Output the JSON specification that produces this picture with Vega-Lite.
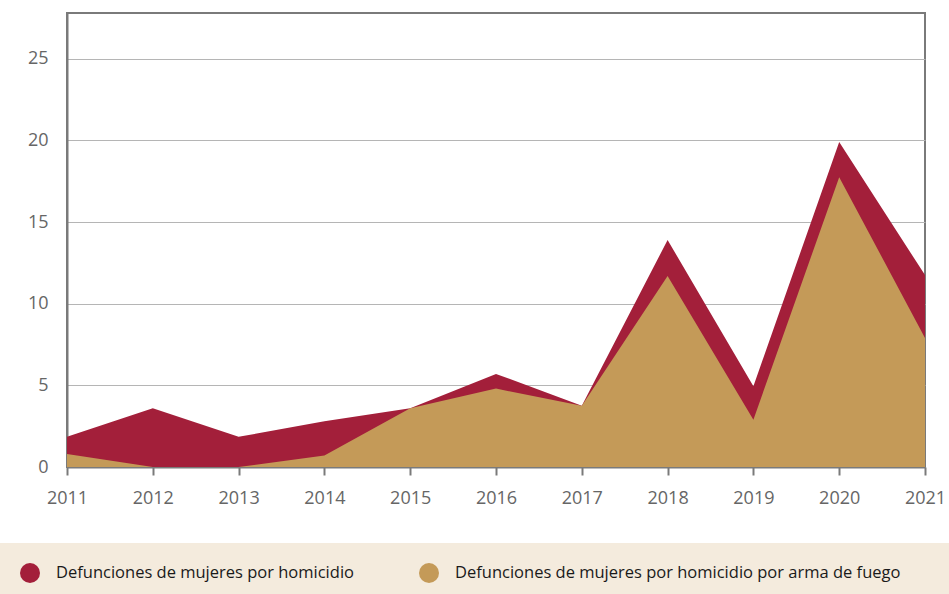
{
  "$schema": "https://vega.github.io/schema/vega-lite/v6.json",
  "width": 858,
  "height": 454,
  "autosize": {"type": "none"},
  "padding": {"left": 67, "top": 13, "right": 24, "bottom": 127},
  "background": "white",
  "config": {
    "view": {"stroke": "#7a7a7a", "strokeWidth": 2},
    "font": "Open Sans"
  },
  "data": {
    "values": [
      {"year": 2011, "serie": "Defunciones de mujeres por homicidio", "valor": 1.85},
      {"year": 2012, "serie": "Defunciones de mujeres por homicidio", "valor": 3.6},
      {"year": 2013, "serie": "Defunciones de mujeres por homicidio", "valor": 1.85},
      {"year": 2014, "serie": "Defunciones de mujeres por homicidio", "valor": 2.8},
      {"year": 2015, "serie": "Defunciones de mujeres por homicidio", "valor": 3.6},
      {"year": 2016, "serie": "Defunciones de mujeres por homicidio", "valor": 5.7},
      {"year": 2017, "serie": "Defunciones de mujeres por homicidio", "valor": 3.75},
      {"year": 2018, "serie": "Defunciones de mujeres por homicidio", "valor": 13.9},
      {"year": 2019, "serie": "Defunciones de mujeres por homicidio", "valor": 4.95},
      {"year": 2020, "serie": "Defunciones de mujeres por homicidio", "valor": 19.9},
      {"year": 2021, "serie": "Defunciones de mujeres por homicidio", "valor": 11.75},
      {"year": 2011, "serie": "Defunciones de mujeres por homicidio por arma de fuego", "valor": 0.8},
      {"year": 2012, "serie": "Defunciones de mujeres por homicidio por arma de fuego", "valor": 0},
      {"year": 2013, "serie": "Defunciones de mujeres por homicidio por arma de fuego", "valor": 0},
      {"year": 2014, "serie": "Defunciones de mujeres por homicidio por arma de fuego", "valor": 0.7},
      {"year": 2015, "serie": "Defunciones de mujeres por homicidio por arma de fuego", "valor": 3.6},
      {"year": 2016, "serie": "Defunciones de mujeres por homicidio por arma de fuego", "valor": 4.8},
      {"year": 2017, "serie": "Defunciones de mujeres por homicidio por arma de fuego", "valor": 3.75},
      {"year": 2018, "serie": "Defunciones de mujeres por homicidio por arma de fuego", "valor": 11.7},
      {"year": 2019, "serie": "Defunciones de mujeres por homicidio por arma de fuego", "valor": 2.9},
      {"year": 2020, "serie": "Defunciones de mujeres por homicidio por arma de fuego", "valor": 17.75},
      {"year": 2021, "serie": "Defunciones de mujeres por homicidio por arma de fuego", "valor": 7.9}
    ]
  },
  "encoding": {
    "x": {
      "field": "year",
      "type": "quantitative",
      "scale": {"domain": [2011, 2021], "nice": false, "zero": false},
      "axis": {
        "title": null,
        "values": [2011, 2012, 2013, 2014, 2015, 2016, 2017, 2018, 2019, 2020, 2021],
        "format": "d",
        "grid": false,
        "domainColor": "#7a7a7a",
        "domainWidth": 2,
        "tickColor": "#7a7a7a",
        "tickWidth": 2,
        "tickSize": 8,
        "labelPadding": 14,
        "labelFontSize": 18,
        "labelColor": "#666666",
        "labelFlush": false
      }
    },
    "y": {
      "field": "valor",
      "type": "quantitative",
      "scale": {"domain": [0, 27.8], "nice": false},
      "axis": {
        "title": null,
        "values": [0, 5, 10, 15, 20, 25],
        "grid": true,
        "gridColor": "#b5b5b5",
        "gridWidth": 1,
        "ticks": false,
        "domainColor": "#7a7a7a",
        "domainWidth": 2,
        "labelPadding": 19,
        "labelFontSize": 18,
        "labelColor": "#666666"
      }
    },
    "color": {
      "field": "serie",
      "type": "nominal",
      "scale": {
        "domain": ["Defunciones de mujeres por homicidio", "Defunciones de mujeres por homicidio por arma de fuego"],
        "range": ["#A31F3A", "#C49A58"]
      },
      "legend": {
        "title": null,
        "orient": "none",
        "legendX": -67,
        "legendY": 530,
        "direction": "horizontal",
        "fillColor": "#F4EBDD",
        "padding": 20,
        "symbolType": "circle",
        "symbolSize": 400,
        "symbolStrokeWidth": 0,
        "symbolOpacity": 1,
        "labelFontSize": 16.5,
        "labelColor": "#1a1a1a",
        "labelLimit": 700,
        "labelOffset": 16,
        "columnPadding": 65,
        "labelExpr": "indexof(datum.label, 'fuego') >= 0 ? datum.label + '\u2800\u2800\u2800' : datum.label"
      }
    }
  },
  "layer": [
    {
      "transform": [{"filter": "datum.serie == 'Defunciones de mujeres por homicidio'"}],
      "mark": {"type": "area", "opacity": 1}
    },
    {
      "transform": [{"filter": "datum.serie == 'Defunciones de mujeres por homicidio por arma de fuego'"}],
      "mark": {"type": "area", "opacity": 1}
    }
  ]
}
